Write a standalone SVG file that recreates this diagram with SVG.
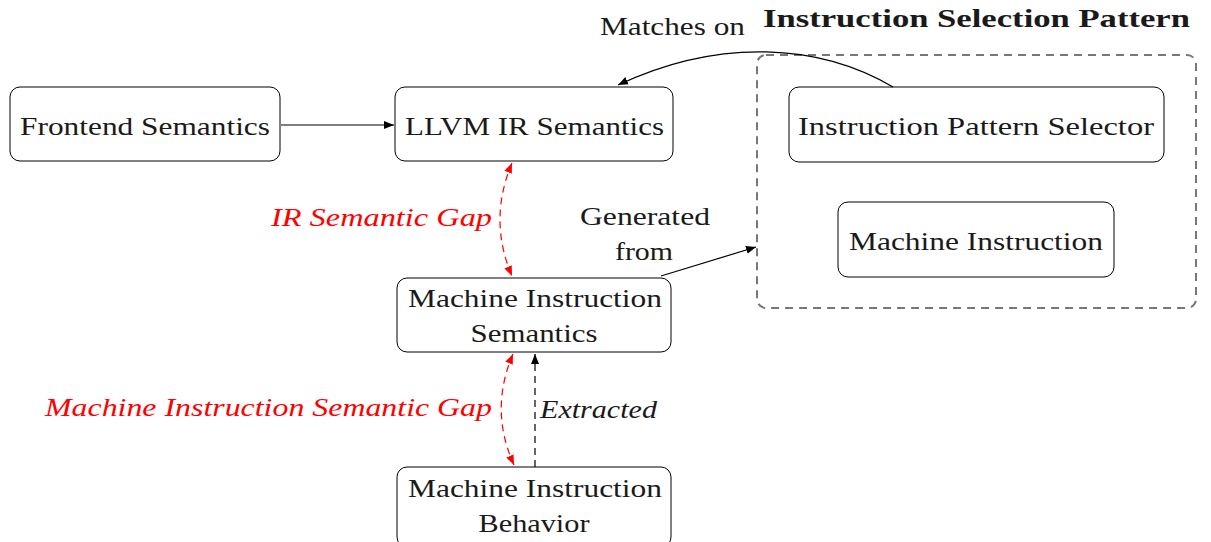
<svg xmlns="http://www.w3.org/2000/svg" width="1211" height="542" viewBox="0 0 1211 542">
  <style>
    .node rect { fill: #ffffff; stroke: #000000; stroke-width: 1; }
    .lbl { font-family: "Liberation Serif", "DejaVu Serif", serif; font-size: 26px; fill: #1a1a1a; }
    .mid { text-anchor: middle; }
    .end { text-anchor: end; }
    .it { font-style: italic; }
    .gap { fill: #ff0000; }
    .edge { fill: none; stroke: #000000; stroke-width: 1.2; }
    .gapedge { fill: none; stroke: #ff0000; stroke-width: 1.2; stroke-dasharray: 7 5; }
    .dash { stroke-dasharray: 7 5; }
    .group { fill: none; stroke: #777777; stroke-width: 2; stroke-dasharray: 8 6; }
  </style>
  <defs>
    <marker id="ah" viewBox="0 0 10 10" refX="10" refY="5" markerWidth="10" markerHeight="10" markerUnits="userSpaceOnUse" orient="auto-start-reverse">
      <path d="M0,1 L10,5 L0,9 Z" fill="#000000"/>
    </marker>
    <marker id="ahr" viewBox="0 0 10 10" refX="10" refY="5" markerWidth="10" markerHeight="10" markerUnits="userSpaceOnUse" orient="auto-start-reverse">
      <path d="M0,1 L10,5 L0,9 Z" fill="#ff0000"/>
    </marker>
  </defs>

  <!-- cluster frame -->
  <g id="pattern-group">
    <rect class="group" x="757" y="55" width="439" height="253" rx="9"/>
    <text class="lbl" x="763" y="27" font-weight="bold" textLength="427" lengthAdjust="spacingAndGlyphs">Instruction Selection Pattern</text>
  </g>

  <g id="frontend" class="node">
    <rect x="10" y="87" width="270" height="74" rx="10"/>
    <text class="lbl" x="20" y="135" textLength="250" lengthAdjust="spacingAndGlyphs">Frontend Semantics</text>
  </g>

  <g id="llvm-ir" class="node">
    <rect x="395" y="87" width="278" height="74" rx="10"/>
    <text class="lbl" x="405" y="135" textLength="259" lengthAdjust="spacingAndGlyphs">LLVM IR Semantics</text>
  </g>

  <g id="mi-semantics" class="node">
    <rect x="397" y="278" width="274" height="74" rx="10"/>
    <text class="lbl" x="408" y="307" textLength="254" lengthAdjust="spacingAndGlyphs">Machine Instruction</text>
    <text class="lbl mid" x="534" y="342" textLength="127" lengthAdjust="spacingAndGlyphs">Semantics</text>
  </g>

  <g id="mi-behavior" class="node">
    <rect x="397" y="467" width="274" height="80" rx="10"/>
    <text class="lbl" x="408" y="497" textLength="254" lengthAdjust="spacingAndGlyphs">Machine Instruction</text>
    <text class="lbl mid" x="534" y="532" textLength="111" lengthAdjust="spacingAndGlyphs">Behavior</text>
  </g>

  <g id="pattern-selector" class="node">
    <rect x="789" y="87" width="375" height="75" rx="10"/>
    <text class="lbl" x="798" y="135" textLength="356" lengthAdjust="spacingAndGlyphs">Instruction Pattern Selector</text>
  </g>

  <g id="machine-instruction" class="node">
    <rect x="838" y="202" width="276" height="75" rx="10"/>
    <text class="lbl" x="849" y="250" textLength="254" lengthAdjust="spacingAndGlyphs">Machine Instruction</text>
  </g>

  <g id="connectors">
    <path class="edge" d="M281,125 L394,125" marker-end="url(#ah)"/>

    <path class="edge" d="M893,87 C820,44 720,37 618,85" marker-end="url(#ah)"/>
    <text class="lbl" x="600" y="35" textLength="145" lengthAdjust="spacingAndGlyphs">Matches on</text>

    <path class="edge" d="M661,276 L756,247" marker-end="url(#ah)"/>
    <text class="lbl" x="580" y="225" textLength="130" lengthAdjust="spacingAndGlyphs">Generated</text>
    <text class="lbl end" x="673" y="260" textLength="58" lengthAdjust="spacingAndGlyphs">from</text>

    <path class="gapedge" d="M512,163 Q488,220 512,276" marker-start="url(#ahr)" marker-end="url(#ahr)"/>
    <text class="lbl it gap" x="271" y="226" textLength="221" lengthAdjust="spacingAndGlyphs">IR Semantic Gap</text>

    <path class="gapedge" d="M513,354 Q489,410 514,465" marker-start="url(#ahr)" marker-end="url(#ahr)"/>
    <text class="lbl it gap" x="45" y="416" textLength="447" lengthAdjust="spacingAndGlyphs">Machine Instruction Semantic Gap</text>

    <path class="edge dash" d="M535,467 L535,354" marker-end="url(#ah)"/>
    <text class="lbl it" x="540" y="418" textLength="117" lengthAdjust="spacingAndGlyphs">Extracted</text>
  </g>
</svg>
